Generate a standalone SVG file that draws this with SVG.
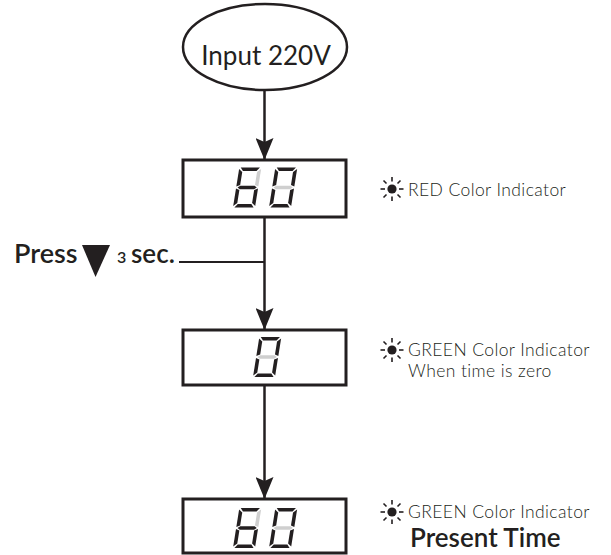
<svg xmlns="http://www.w3.org/2000/svg" xmlns:xlink="http://www.w3.org/1999/xlink" width="611" height="555" viewBox="0 0 611 555">
<style>
.ln{stroke:#231f20;stroke-width:2.5;fill:none}
.box{stroke:#231f20;stroke-width:3;fill:#fff}
.on{fill:#231f20}
.off{fill:#cfcfcf}
.lbl{font-family:Lato,"Open Sans",sans-serif;font-weight:300;font-size:17.5px;letter-spacing:0.4px;fill:#231f20}
.bold{font-family:Lato,"Open Sans",sans-serif;font-weight:600;fill:#231f20}
.sun line{stroke:#231f20;stroke-width:1.6}
</style>
<defs>
<polygon id="sa" points="1.4,0 20.6,0 17.8,3.6 4.2,3.6"/>
<polygon id="sb" points="22,1.4 22,19 18.4,17.4 18.4,4.4"/>
<polygon id="sc" points="22,21 22,38.6 18.4,35.6 18.4,22.6"/>
<polygon id="sd" points="1.4,40 20.6,40 17.8,36.4 4.2,36.4"/>
<polygon id="se" points="0,21 0,38.6 3.6,35.6 3.6,22.6"/>
<polygon id="sf" points="0,1.4 0,19 3.6,17.4 3.6,4.4"/>
<polygon id="sg" points="1.4,20 3.8,18.2 18.2,18.2 20.6,20 18.2,21.8 3.8,21.8"/>
<g id="sun">
<circle cx="0" cy="0" r="4.6" fill="#231f20"/>
<g class="sun">
<line x1="-11.5" y1="0" x2="-7" y2="0"/>
<line x1="7" y1="0" x2="11.5" y2="0"/>
<line x1="0" y1="-12" x2="0" y2="-7.5"/>
<line x1="0" y1="7.5" x2="0" y2="12"/>
<line x1="-8.5" y1="-8.5" x2="-5.5" y2="-5.5"/>
<line x1="8.5" y1="-8.5" x2="5.5" y2="-5.5"/>
<line x1="-8.5" y1="8.5" x2="-5.5" y2="5.5"/>
<line x1="8.5" y1="8.5" x2="5.5" y2="5.5"/>
</g>
</g>
<marker id="ah" markerUnits="userSpaceOnUse" markerWidth="22" markerHeight="18" viewBox="0 0 22 18" refX="22" refY="9" orient="auto">
<path d="M0,0 L4,9 L0,18 L22,9 Z" fill="#231f20"/>
</marker>
</defs>

<g id="connectors">
<line class="ln" x1="264.5" y1="90" x2="264.5" y2="160" marker-end="url(#ah)"/>
<line class="ln" x1="264.5" y1="217" x2="264.5" y2="330" marker-end="url(#ah)"/>
<line class="ln" x1="264.5" y1="385" x2="264.5" y2="499" marker-end="url(#ah)"/>
<line class="ln" x1="179" y1="262" x2="264.5" y2="262" style="stroke-width:2"/>
</g>

<g id="input">
<ellipse cx="265" cy="47" rx="82" ry="43" class="ln"/>
<text x="266" y="65" text-anchor="middle" style="font-family:Lato,'Open Sans',sans-serif;font-size:26px;fill:#231f20">Input 220V</text>
</g>

<g id="display1">
<rect x="183" y="160" width="163" height="57" class="box"/>
<g transform="translate(233,207.5) skewX(-9) translate(0,-40)">
<use xlink:href="#sa" class="on"/><use xlink:href="#sb" class="off"/><use xlink:href="#sc" class="on"/><use xlink:href="#sd" class="on"/><use xlink:href="#se" class="on"/><use xlink:href="#sf" class="on"/><use xlink:href="#sg" class="on"/>
</g>
<g transform="translate(269,207.5) skewX(-9) translate(0,-40)">
<use xlink:href="#sa" class="on"/><use xlink:href="#sb" class="on"/><use xlink:href="#sc" class="on"/><use xlink:href="#sd" class="on"/><use xlink:href="#se" class="on"/><use xlink:href="#sf" class="on"/><use xlink:href="#sg" class="off"/>
</g>
</g>

<g id="label1">
<use xlink:href="#sun" transform="translate(392,189)"/>
<text x="408" y="196" class="lbl">RED Color Indicator</text>
</g>

<g id="press">
<text x="14" y="263" class="bold" style="font-size:27px">Press</text>
<polygon points="82,245 110,245 95.5,277" fill="#231f20"/>
<text x="117" y="263" class="bold" style="font-size:16px">3</text>
<text x="131" y="263" class="bold" style="font-size:26px">sec.</text>
</g>

<g id="display2">
<rect x="183" y="330" width="163" height="55" class="box"/>
<g transform="translate(253,377) skewX(-9) translate(0,-40)">
<use xlink:href="#sa" class="on"/><use xlink:href="#sb" class="on"/><use xlink:href="#sc" class="on"/><use xlink:href="#sd" class="on"/><use xlink:href="#se" class="on"/><use xlink:href="#sf" class="on"/><use xlink:href="#sg" class="off"/>
</g>
</g>

<g id="label2">
<use xlink:href="#sun" transform="translate(392,350)"/>
<text x="408" y="356" class="lbl">GREEN Color Indicator</text>
<text x="408" y="377" class="lbl">When time is zero</text>
</g>

<g id="display3">
<rect x="183" y="499" width="163" height="54" class="box"/>
<g transform="translate(233,548) skewX(-9) translate(0,-40)">
<use xlink:href="#sa" class="on"/><use xlink:href="#sb" class="off"/><use xlink:href="#sc" class="on"/><use xlink:href="#sd" class="on"/><use xlink:href="#se" class="on"/><use xlink:href="#sf" class="on"/><use xlink:href="#sg" class="on"/>
</g>
<g transform="translate(269,548) skewX(-9) translate(0,-40)">
<use xlink:href="#sa" class="on"/><use xlink:href="#sb" class="on"/><use xlink:href="#sc" class="on"/><use xlink:href="#sd" class="on"/><use xlink:href="#se" class="on"/><use xlink:href="#sf" class="on"/><use xlink:href="#sg" class="off"/>
</g>
</g>

<g id="label3">
<use xlink:href="#sun" transform="translate(392,512)"/>
<text x="408" y="518" class="lbl">GREEN Color Indicator</text>
<text x="410" y="547" class="bold" style="font-size:26px">Present Time</text>
</g>
</svg>
